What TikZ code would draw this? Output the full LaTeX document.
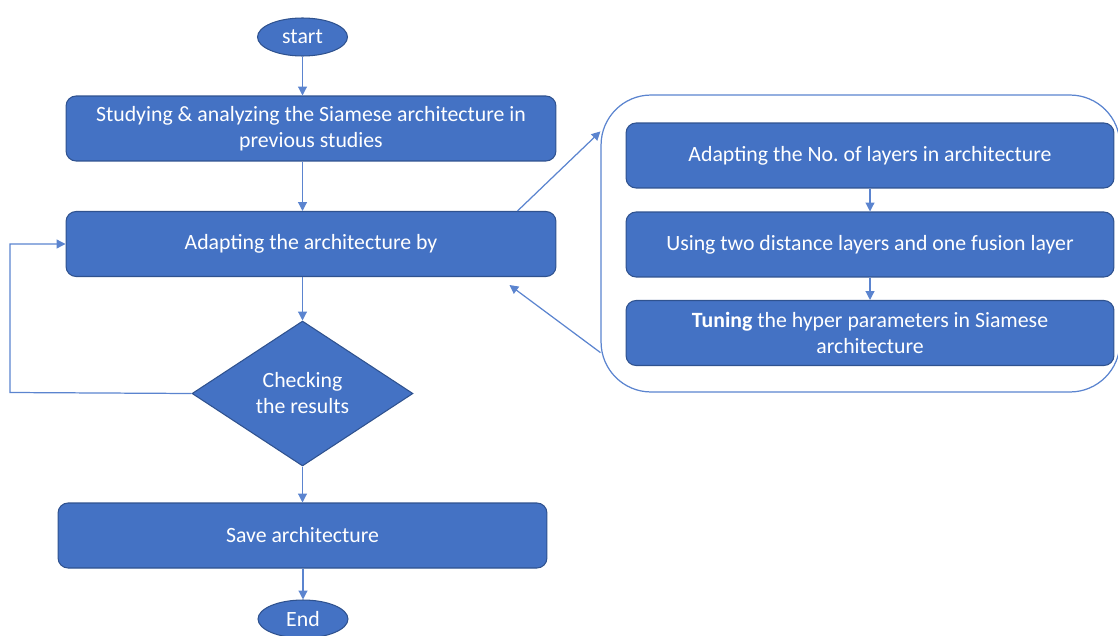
\documentclass[tikz,border=0pt]{standalone}
\usepackage{fontspec}
\setmainfont{Carlito}
\usetikzlibrary{shapes.geometric,arrows.meta,calc}
\definecolor{boxfill}{HTML}{4472C4}
\definecolor{boxline}{HTML}{2F528F}
\definecolor{conn}{HTML}{5B84CF}
\begin{document}
\begin{tikzpicture}[x=0.02cm,y=-0.02cm,
  every node/.style={font=\fontsize{12.4}{14.8}\selectfont, text=white, align=center},
  box/.style={draw=boxline, fill=boxfill, line width=0.6pt, rounded corners=0.2cm,
    minimum width=9.8cm, minimum height=1.3cm, inner sep=0pt},
  term/.style={ellipse, draw=boxline, fill=boxfill, line width=0.6pt,
    minimum width=1.8cm, minimum height=0.76cm, inner sep=0pt},
  dec/.style={diamond, draw=boxline, fill=boxfill, line width=0.6pt,
    minimum width=4.42cm, minimum height=2.9cm, inner sep=0pt, aspect=1.5},
  group/.style={draw=conn, line width=0.7pt, rounded corners=1cm,
    minimum width=10.38cm, minimum height=5.94cm, inner sep=0pt},
  conn/.style={draw=conn, line width=0.7pt, -{Triangle[length=5pt,width=5pt]}}
]
\useasboundingbox (0,0) rectangle (1118,635);
\clip (0,0) rectangle (1118,635);

\node[term] (start) at (302.5,37) {start};
\node[box] (b1) at (311,128.5) {Studying \& analyzing the Siamese architecture in\\previous studies};
\node[box] (b2) at (311,244) {Adapting the architecture by};
\node[dec] (d) at (302.5,393.5) {Checking\\the results};
\node[box, minimum width=9.78cm] (save) at (302.5,535.5) {Save architecture};
\node[term] (end) at (303,619) {End};

\node[group] (grp) at (860.5,243.5) {};
\node[box, minimum width=9.76cm] (r1) at (870,155.5) {Adapting the No.\ of layers in architecture};
\node[box, minimum width=9.76cm] (r2) at (870,244.5) {Using two distance layers and one fusion layer};
\node[box, minimum width=9.76cm] (r3) at (870,333) {\textbf{Tuning} the hyper parameters in Siamese\\architecture};

\draw[conn] (start.south) -- (start.south |- b1.north);
\draw[conn] (b1.south -| start.south) -- (b2.north -| start.south);
\draw[conn] (b2.south -| d.north) -- (d.north);
\draw[conn] (d.south) -- (save.north -| d.south);
\draw[conn] (save.south -| end.north) -- (end.north);
\draw[conn] (r1) -- (r2);
\draw[conn] (r2) -- (r3);

\coordinate (c1) at ($(b2.north east)+(-39,0)$);
\coordinate (c2) at ($(grp.north west)+(0,37)$);
\draw[conn] (c1) -- (c2);
\coordinate (c3) at ($(grp.south west)+(0,-40)$);
\coordinate (c4) at ($(b2.south east)+(-47,8)$);
\draw[conn] (c3) -- (c4);

\coordinate (lp) at (10,392.5);
\draw[conn] (d.west) -- (lp) |- (b2.west);
\end{tikzpicture}
\end{document}
